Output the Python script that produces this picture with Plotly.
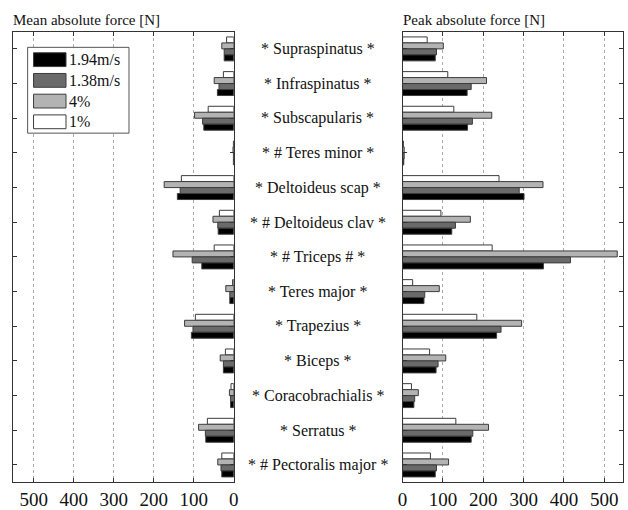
import plotly.graph_objects as go

muscles = ["* Supraspinatus *", "* Infraspinatus *", "* Subscapularis *", "* # Teres minor *",
           "* Deltoideus scap *", "* # Deltoideus clav *", "* # Triceps # *", "* Teres major *",
           "* Trapezius *", "* Biceps *", "* Coracobrachialis *", "* Serratus *",
           "* # Pectoralis major *"]

series_names = ["1%", "4%", "1.38m/s", "1.94m/s"]
series_colors = ["#ffffff", "#b3b3b3", "#6a6a6a", "#000000"]

mean_1pct = [18, 26, 64, 1, 131, 36, 49, 3, 96, 21, 7, 66, 30]
mean_4pct = [30, 49, 98, 2, 174, 52, 152, 20, 123, 34, 11, 88, 40]
mean_138 = [24, 37, 78, 1, 134, 40, 104, 10, 102, 26, 8, 71, 32]
mean_194 = [24, 41, 75, 1, 141, 39, 80, 10, 106, 26, 8, 70, 30]

peak_1pct = [61, 112, 127, 2, 239, 95, 222, 25, 184, 67, 22, 132, 69]
peak_4pct = [101, 208, 221, 4, 348, 168, 532, 91, 295, 107, 39, 213, 114]
peak_138 = [84, 170, 173, 4, 289, 131, 416, 55, 244, 88, 30, 174, 84]
peak_194 = [81, 160, 161, 3, 301, 122, 349, 53, 233, 83, 28, 170, 81]

mean_vals = [mean_1pct, mean_4pct, mean_138, mean_194]
peak_vals = [peak_1pct, peak_4pct, peak_138, peak_194]

xticks = [0, 100, 200, 300, 400, 500]

W, H = 628, 510
FONT = "Liberation Serif, Times New Roman, serif"
EDGE = "#3c3c3c"

fig = go.Figure()
for name, col, mv, pv in zip(series_names, series_colors, mean_vals, peak_vals):
    fig.add_trace(go.Bar(y=muscles, x=mv, orientation="h", name=name,
                         marker=dict(color=col, line=dict(color=EDGE, width=1)),
                         xaxis="x", yaxis="y", showlegend=False))
    fig.add_trace(go.Bar(y=muscles, x=pv, orientation="h", name=name,
                         marker=dict(color=col, line=dict(color=EDGE, width=1)),
                         xaxis="x2", yaxis="y2", showlegend=False))

ytop = 1 - 32 / H
ybot = 1 - 489 / H

axis_common = dict(showline=True, linecolor="#333", linewidth=1, ticks="inside",
                   ticklen=4, tickcolor="#333", mirror="ticks", zeroline=False)

fig.update_layout(
    width=W, height=H,
    margin=dict(l=0, r=0, t=0, b=0),
    paper_bgcolor="white", plot_bgcolor="white",
    barmode="group", bargap=0.31, bargroupgap=0.0,
    font=dict(family=FONT, color="#111"),
    showlegend=False,
    xaxis=dict(domain=[8 / W, 232.5 / W], range=[552, 0], tickvals=xticks,
               showgrid=True, gridcolor="#aaaaaa", griddash="dot", gridwidth=1,
               tickfont=dict(size=19, family=FONT, color="#111"), anchor="y", **axis_common),
    xaxis2=dict(domain=[404 / W, 627.5 / W], range=[0, 545], tickvals=xticks,
                showgrid=True, gridcolor="#aaaaaa", griddash="dot", gridwidth=1,
                tickfont=dict(size=19, family=FONT, color="#111"), anchor="y2", **axis_common),
    yaxis=dict(domain=[ybot, ytop], categoryorder="array", categoryarray=muscles,
               range=[12.5, -0.5], showticklabels=False, anchor="x", showgrid=False,
               **axis_common),
    yaxis2=dict(domain=[ybot, ytop], categoryorder="array", categoryarray=muscles,
                range=[12.5, -0.5], showticklabels=False, anchor="x2", showgrid=False,
                **axis_common),
)


def px(x):
    return x / W


def py(y):
    return 1 - y / H


# legend box (paper pixels); entries listed in reverse of trace order
fig.add_shape(type="rect", xref="paper", yref="paper",
              x0=px(23), x1=px(126), y0=py(48), y1=py(135),
              line=dict(color="#555", width=1), fillcolor="white", layer="above")
leg_order = list(zip(series_names, series_colors))[::-1]
for i, (name, col) in enumerate(leg_order):
    yc = 60.5 + i * 21
    fig.add_shape(type="rect", xref="paper", yref="paper",
                  x0=px(29), x1=px(62), y0=py(yc - 7), y1=py(yc + 7),
                  line=dict(color=EDGE, width=1), fillcolor=col, layer="above")
    fig.add_annotation(x=px(63), y=py(yc), xref="paper", yref="paper", text=name,
                       showarrow=False, xanchor="left", yanchor="middle",
                       font=dict(size=16, family=FONT, color="#111"))

for m in muscles:
    fig.add_annotation(x=318 / W, xref="paper", y=m, yref="y", text=m,
                       showarrow=False, font=dict(size=16, family=FONT, color="#111"),
                       xanchor="center", yanchor="middle")

fig.add_annotation(x=px(6), y=py(20), xref="paper", yref="paper",
                   text="Mean absolute force [N]", showarrow=False,
                   xanchor="left", yanchor="middle", font=dict(size=15, family=FONT, color="#111"))
fig.add_annotation(x=px(402), y=py(20), xref="paper", yref="paper",
                   text="Peak absolute force [N]", showarrow=False,
                   xanchor="left", yanchor="middle", font=dict(size=15, family=FONT, color="#111"))

fig.write_html("out.html", config={"displayModeBar": False},
               post_script="document.body.style.margin='0';document.body.style.padding='0';document.body.style.overflow='hidden';")
